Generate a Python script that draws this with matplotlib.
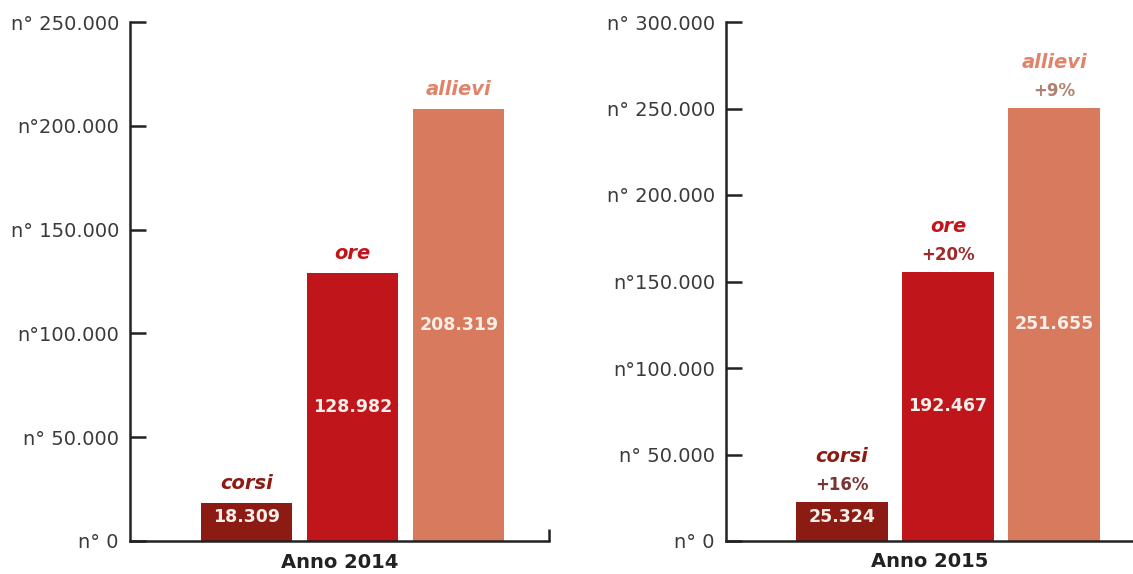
import matplotlib.pyplot as plt

categories = ['corsi', 'ore', 'allievi']
colors = ['#8C1B14', '#BF151B', '#D87A5E']
name_colors = ['#8C1B14', '#BF151B', '#E0836A']

# Anno 2014
values_2014 = [18309, 128982, 208319]
labels_2014 = ['18.309', '128.982', '208.319']
ticks_2014 = [0, 50000, 100000, 150000, 200000, 250000]
ticklabels_2014 = ['n° 0', 'n° 50.000', 'n°100.000', 'n° 150.000', 'n°200.000', 'n° 250.000']

# Anno 2015 (bar heights as drawn in the picture, labels as printed)
heights_2015 = [22500, 155500, 250500]
labels_2015 = ['25.324', '192.467', '251.655']
pct_2015 = ['+16%', '+20%', '+9%']
pct_colors = ['#7A3432', '#9E2A2A', '#B08070']
ticks_2015 = [0, 50000, 100000, 150000, 200000, 250000, 300000]
ticklabels_2015 = ['n° 0', 'n° 50.000', 'n°100.000', 'n°150.000', 'n° 200.000', 'n° 250.000', 'n° 300.000']

W, H = 1133, 574
fig = plt.figure(figsize=(W / 100, H / 100), dpi=100)
plt.rcParams['font.family'] = ['DejaVu Sans']


def make_axes(x0, x1, ytop, ybot):
    return fig.add_axes([x0 / W, (H - ybot) / H, (x1 - x0) / W, (ybot - ytop) / H])


def style(ax, ticks, ticklabels, ymax):
    ax.set_ylim(0, ymax)
    ax.set_yticks(ticks)
    ax.set_yticklabels(ticklabels)
    for s in ['top', 'right']:
        ax.spines[s].set_visible(False)
    for s in ['left', 'bottom']:
        ax.spines[s].set_linewidth(1.8)
        ax.spines[s].set_color('#222222')
    ax.tick_params(axis='y', direction='in', length=11.5, width=1.8, color='#222222',
                   pad=8, labelsize=14, labelcolor='#3a3a3a')


def draw(ax, heights, labels, pcts=None):
    xs = range(len(heights))
    ax.bar(xs, heights, width=0.86, color=colors, zorder=2)
    for i, h in enumerate(heights):
        ax.text(i, h / 2 if i else h / 2 + 2500, labels[i], ha='center', va='center',
                fontsize=12.5, fontweight='bold', color='#F6EEE8', zorder=3)
        if pcts is None:
            off = 10
        else:
            ax.annotate(pcts[i], (i, h), xytext=(0, 8), textcoords='offset pixels',
                        ha='center', va='bottom', fontsize=12, fontweight='bold',
                        color=pct_colors[i])
            off = 36
        ax.annotate(categories[i], (i, h), xytext=(0, off), textcoords='offset pixels',
                    ha='center', va='bottom', fontsize=14, fontweight='bold',
                    fontstyle='italic', color=name_colors[i])


# left chart
ax1 = make_axes(130, 549, 22, 541)
style(ax1, ticks_2014, ticklabels_2014, 250000)
draw(ax1, values_2014, labels_2014)
ax1.set_xlim(-1.10, 2.85)
ax1.set_xticks([2.85])
ax1.set_xticklabels([''])
ax1.tick_params(axis='x', direction='in', length=8.5, width=1.8, color='#222222')
ax1.set_xlabel('Anno 2014', fontsize=14, fontweight='bold', color='#222222', labelpad=5)

# right chart
ax2 = make_axes(726, 1133, 22, 541)
style(ax2, ticks_2015, ticklabels_2015, 300000)
draw(ax2, heights_2015, labels_2015, pct_2015)
ax2.set_xlim(-1.094, 2.745)
ax2.set_xticks([])
ax2.set_xlabel('Anno 2015', fontsize=14, fontweight='bold', color='#222222', labelpad=8)

fig.savefig('out.png', dpi=100)
